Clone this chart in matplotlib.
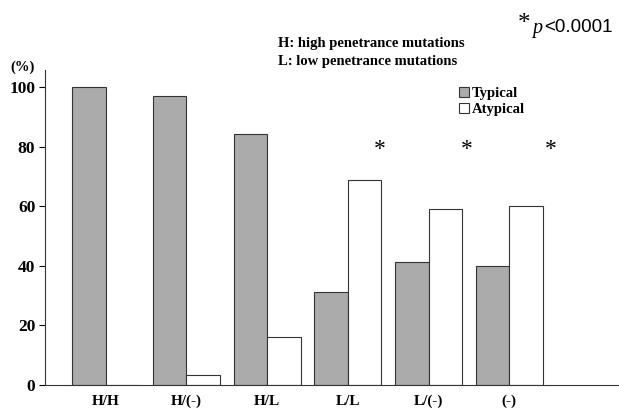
import matplotlib
matplotlib.use("Agg")
import matplotlib.pyplot as plt
import numpy as np

categories = ["H/H", "H/(-)", "H/L", "L/L", "L/(-)", "(-)"]
typical = [100, 97, 84.2, 31.3, 41.2, 40.0]
atypical = [0, 3.4, 16.2, 68.8, 59.0, 60.2]
significant = [False, False, False, True, True, True]
yticks = [0, 20, 40, 60, 80, 100]

plt.rcParams['font.family'] = ['Liberation Serif', 'DejaVu Serif']

W, H = 619, 408
fig = plt.figure(figsize=(W / 100, H / 100), dpi=100)
ax = fig.add_axes([45 / W, (H - 385) / H, 1 - 45 / W, (385 - 70) / H])

x = np.arange(len(categories))
bw = 0.415
ax.bar(x - bw / 2, typical, width=bw, color="#ababab", edgecolor="#333333", linewidth=0.8, label="Typical")
ax.bar(x + bw / 2, atypical, width=bw, color="white", edgecolor="#333333", linewidth=0.8, label="Atypical")

ax.set_xlim(-0.752, 6.36)
ax.set_ylim(0, 105.7)
ax.set_yticks(yticks)
ax.set_yticklabels([str(v) for v in yticks], fontsize=12.5, fontweight="bold")
ax.set_xticks(x)
ax.set_xticklabels(categories, fontsize=11, fontweight="bold")
ax.tick_params(axis="x", length=0, pad=7)
ax.tick_params(axis="y", length=4, width=0.8, pad=3, direction="out")
for s in ["top", "right"]:
    ax.spines[s].set_visible(False)
for s in ["left", "bottom"]:
    ax.spines[s].set_linewidth(0.8)
    ax.spines[s].set_color("#333333")

# significance asterisks
offsets = [0.39, 0.47, 0.52]
k = 0
for i, sig in enumerate(significant):
    if sig:
        ax.text(i + offsets[k], 78.9, "*", ha="center", va="center", fontsize=17)
        k += 1

fig.text(10 / W, 1 - 67 / H, "(%)", fontsize=10.5, fontweight="bold", va="center", ha="left")
fig.text(278 / W, 1 - 44 / H, "H: high penetrance mutations", fontsize=10.5, fontweight="bold", va="center")
fig.text(278 / W, 1 - 62 / H, "L: low penetrance mutations", fontsize=10.5, fontweight="bold", va="center")
fig.text(518 / W, 1 - 24 / H, "*", fontsize=18, va="center", ha="left")
fig.text(532 / W, 1 - 28 / H, "p", fontsize=14.5, va="center", ha="left", style="italic")
fig.text(544 / W, 1 - 28 / H, "<0.0001", fontsize=13.5, va="center", ha="left",
         family=["Liberation Sans", "DejaVu Sans"])

leg = ax.legend(loc="upper left", bbox_to_anchor=(452 / W, 1 - 80 / H), bbox_transform=fig.transFigure,
                frameon=False, handlelength=0.65, handleheight=0.65, handletextpad=0.2,
                labelspacing=0.2, borderpad=0, prop={"weight": "bold", "size": 10.5})

fig.savefig("out.png", dpi=100)
